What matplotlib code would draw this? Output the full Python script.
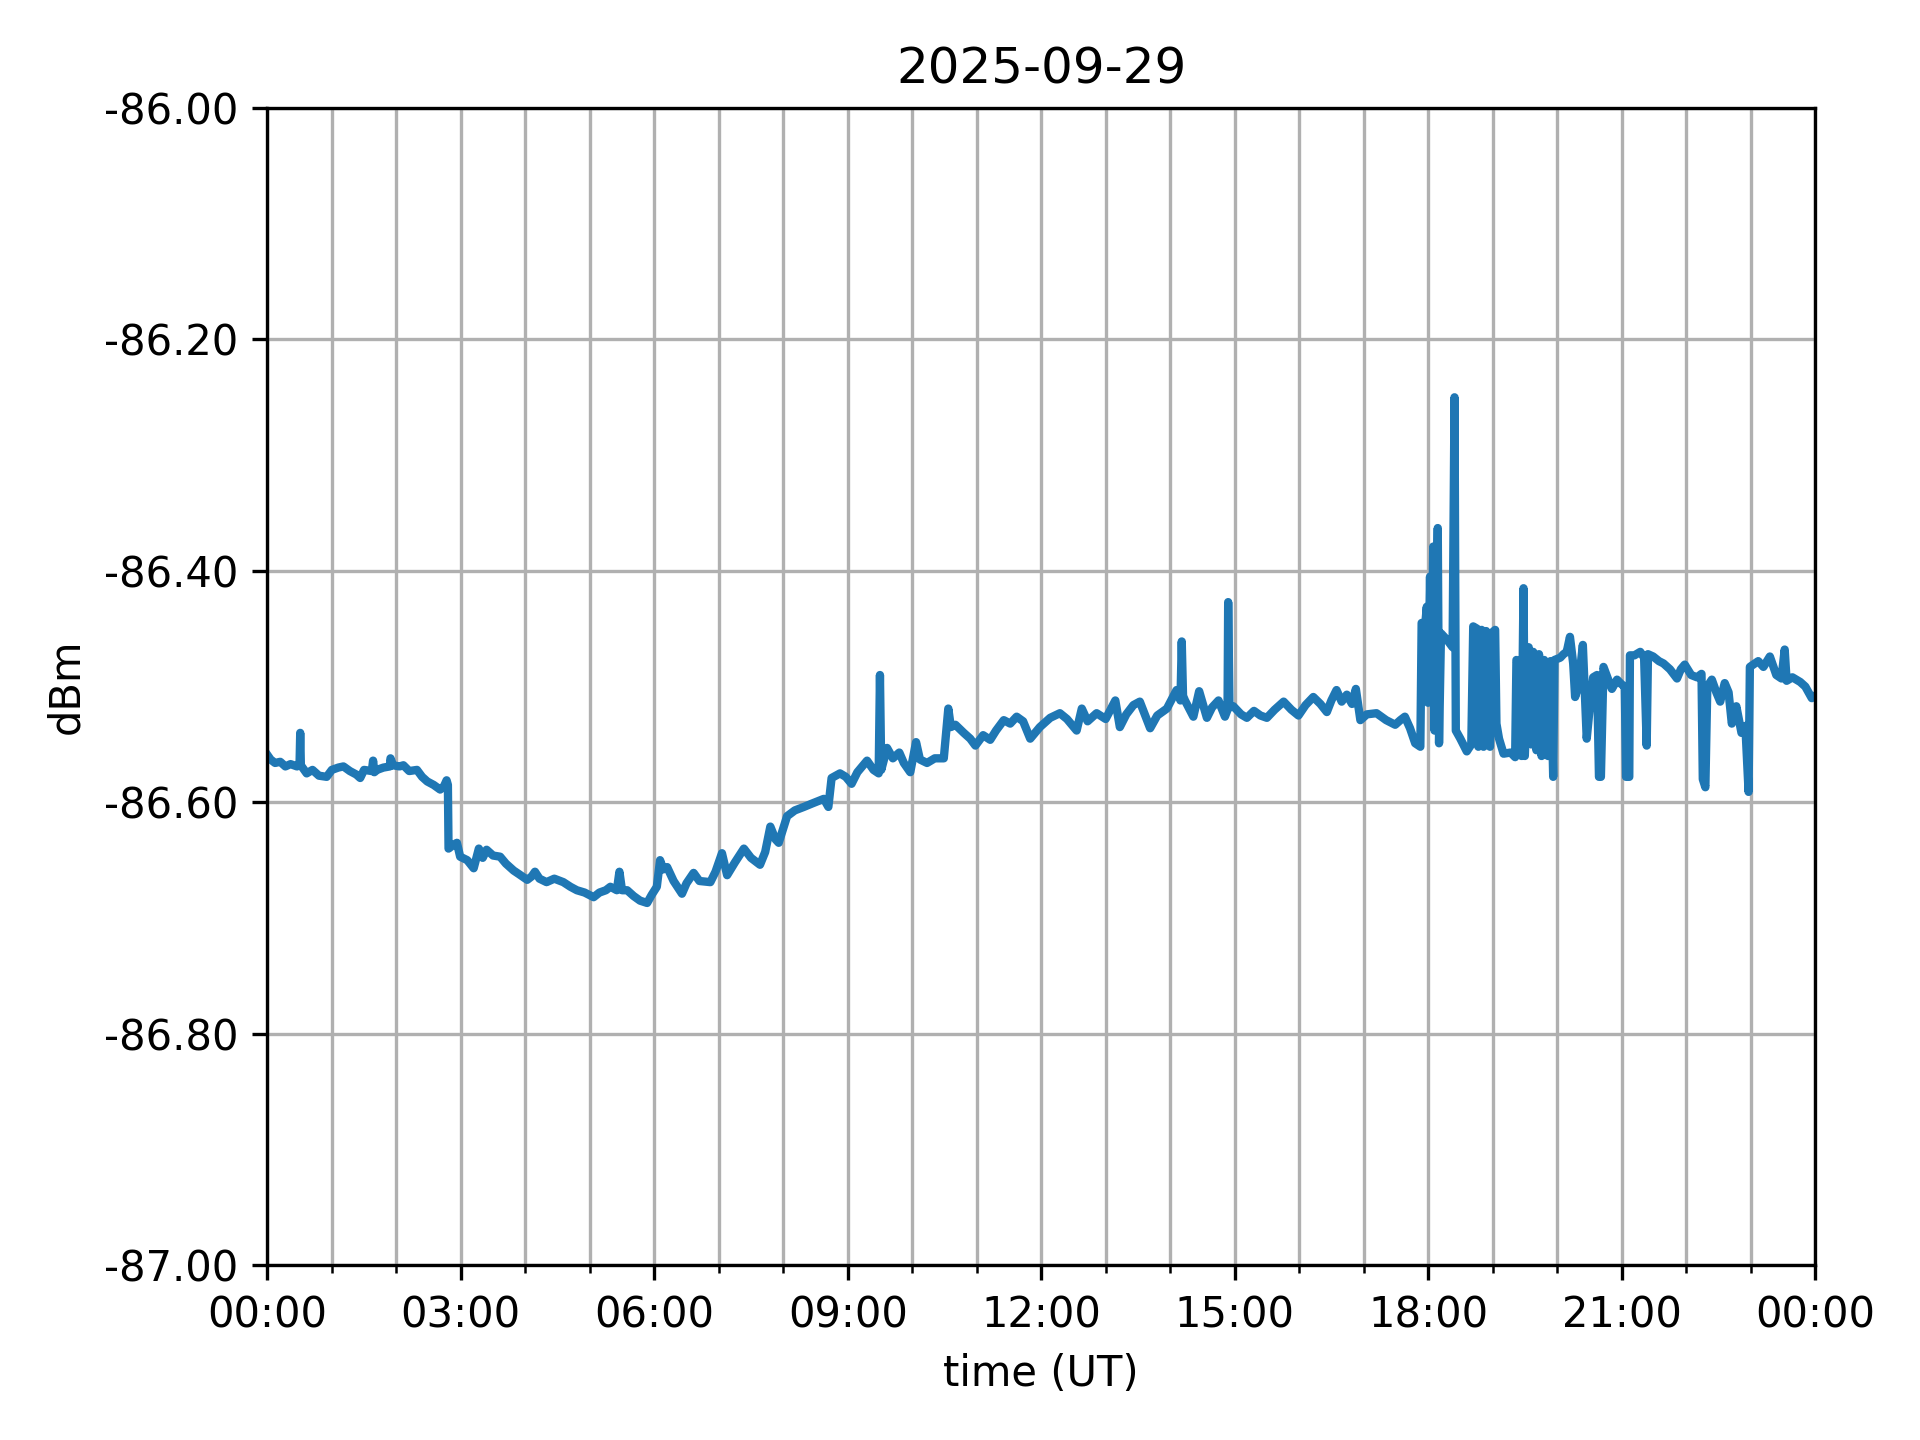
import numpy as np
from matplotlib import pyplot as plt
import matplotlib.dates as mdates
from datetime import datetime, timedelta

# hours since 00:00 UT and received level (dBm)
hours = [
    0.00, 0.05, 0.12, 0.20, 0.28, 0.36, 0.46, 0.50, 0.51, 0.52, 0.61, 0.70, 0.80, 0.92,
    1.00, 1.10, 1.18, 1.28, 1.38, 1.44, 1.50, 1.62, 1.64, 1.66, 1.70, 1.80, 1.90, 1.91,
    1.95, 2.05, 2.11, 2.20, 2.32, 2.40, 2.48, 2.58, 2.68, 2.74, 2.78, 2.80, 2.81, 2.88,
    2.94, 2.99, 3.10, 3.20, 3.28, 3.34, 3.40, 3.50, 3.61, 3.70, 3.82, 3.90, 4.03, 4.10,
    4.15, 4.22, 4.33, 4.45, 4.59, 4.70, 4.80, 4.92, 5.06, 5.15, 5.25, 5.32, 5.42, 5.46,
    5.50, 5.58, 5.68, 5.78, 5.89, 5.96, 6.04, 6.09, 6.14, 6.20, 6.30, 6.43, 6.50, 6.61,
    6.70, 6.87, 6.95, 7.05, 7.13, 7.25, 7.39, 7.50, 7.64, 7.72, 7.80, 7.88, 7.93, 8.06,
    8.18, 8.32, 8.45, 8.63, 8.70, 8.75, 8.88, 8.97, 9.06, 9.15, 9.30, 9.40, 9.48, 9.50,
    9.52, 9.61, 9.70, 9.80, 9.87, 9.97, 10.06, 10.12, 10.23, 10.35, 10.49, 10.56, 10.60,
    10.67, 10.80, 10.90, 10.98, 11.10, 11.21, 11.30, 11.42, 11.52, 11.62, 11.72, 11.83,
    11.98, 12.14, 12.29, 12.40, 12.55, 12.63, 12.72, 12.86, 13.00, 13.15, 13.22, 13.32,
    13.43, 13.53, 13.69, 13.80, 13.95, 14.10, 14.16, 14.18, 14.20, 14.23, 14.36, 14.45,
    14.57, 14.65, 14.75, 14.85, 14.89, 14.90, 14.92, 14.98, 15.10, 15.19, 15.30, 15.40,
    15.50, 15.62, 15.76, 15.88, 15.99, 16.10, 16.22, 16.33, 16.43, 16.50, 16.58, 16.66,
    16.74, 16.82, 16.88, 16.95, 17.05, 17.20, 17.35, 17.49, 17.57, 17.64, 17.72, 17.80,
    17.88, 17.90, 17.95, 17.98, 18.00, 18.03, 18.05, 18.08, 18.10, 18.15, 18.17, 18.20,
    18.30, 18.38, 18.41, 18.43, 18.50, 18.60, 18.67, 18.70, 18.76, 18.78, 18.83, 18.86,
    18.90, 18.93, 18.96, 19.00, 19.04, 19.06, 19.10, 19.17, 19.28, 19.35, 19.37, 19.42,
    19.45, 19.48, 19.50, 19.56, 19.60, 19.63, 19.68, 19.72, 19.76, 19.80, 19.86, 19.90,
    19.94, 19.96, 20.05, 20.10, 20.15, 20.20, 20.25, 20.28, 20.33, 20.40, 20.46, 20.50,
    20.56, 20.62, 20.65, 20.68, 20.72, 20.80, 20.85, 20.93, 21.00, 21.05, 21.07, 21.12,
    21.13, 21.20, 21.29, 21.35, 21.39, 21.41, 21.49, 21.58, 21.65, 21.75, 21.86, 21.92,
    21.98, 22.08, 22.17, 22.24, 22.26, 22.30, 22.33, 22.40, 22.47, 22.53, 22.60, 22.66,
    22.71, 22.78, 22.86, 22.92, 22.97, 22.99, 23.12, 23.20, 23.30, 23.40, 23.48, 23.53,
    23.56, 23.65, 23.77, 23.85, 23.95, 24.00,
]
dbm = [
    -86.559, -86.563, -86.566, -86.565, -86.569, -86.567, -86.569, -86.566, -86.540, -86.568,
    -86.575, -86.572, -86.577, -86.578, -86.572, -86.570, -86.569, -86.573, -86.576, -86.579,
    -86.572, -86.573, -86.564, -86.574, -86.572, -86.570, -86.569, -86.562, -86.568, -86.569,
    -86.568, -86.573, -86.572, -86.578, -86.582, -86.585, -86.589, -86.586, -86.581, -86.585,
    -86.640, -86.637, -86.635, -86.647, -86.650, -86.657, -86.640, -86.648, -86.641, -86.646,
    -86.647, -86.653, -86.659, -86.662, -86.667, -86.664, -86.660, -86.666, -86.669, -86.666,
    -86.669, -86.673, -86.676, -86.678, -86.682, -86.678, -86.676, -86.673, -86.676, -86.660,
    -86.676, -86.676, -86.681, -86.685, -86.687, -86.680, -86.673, -86.650, -86.658, -86.656,
    -86.668, -86.679, -86.670, -86.661, -86.668, -86.669, -86.660, -86.644, -86.663, -86.652,
    -86.640, -86.648, -86.654, -86.643, -86.621, -86.632, -86.635, -86.612, -86.607, -86.604,
    -86.601, -86.597, -86.604, -86.579, -86.575, -86.578, -86.584, -86.574, -86.564, -86.572,
    -86.575, -86.490, -86.572, -86.553, -86.562, -86.557, -86.566, -86.574, -86.548, -86.563,
    -86.566, -86.562, -86.562, -86.519, -86.535, -86.533, -86.540, -86.545, -86.551, -86.542,
    -86.546, -86.538, -86.529, -86.532, -86.526, -86.530, -86.545, -86.535, -86.527, -86.523,
    -86.528, -86.538, -86.519, -86.530, -86.523, -86.528, -86.512, -86.535, -86.524, -86.516,
    -86.513, -86.536, -86.525, -86.519, -86.503, -86.512, -86.461, -86.508, -86.512, -86.526,
    -86.504, -86.527, -86.518, -86.512, -86.526, -86.520, -86.427, -86.518, -86.517, -86.524,
    -86.527, -86.521, -86.525, -86.527, -86.520, -86.513, -86.520, -86.525, -86.516, -86.509,
    -86.515, -86.522, -86.512, -86.503, -86.513, -86.507, -86.515, -86.502, -86.529, -86.524,
    -86.523, -86.529, -86.533, -86.529, -86.526, -86.536, -86.549, -86.552, -86.445, -86.450,
    -86.431, -86.514, -86.405, -86.500, -86.379, -86.538, -86.363, -86.549, -86.454, -86.460,
    -86.466, -86.250, -86.538, -86.545, -86.556, -86.550, -86.448, -86.450, -86.552, -86.451,
    -86.552, -86.452, -86.540, -86.552, -86.453, -86.451, -86.532, -86.545, -86.558, -86.557,
    -86.561, -86.477, -86.482, -86.560, -86.415, -86.560, -86.466, -86.550, -86.470, -86.555,
    -86.472, -86.560, -86.477, -86.560, -86.478, -86.578, -86.477, -86.475, -86.472, -86.470,
    -86.457, -86.480, -86.509, -86.500, -86.464, -86.545, -86.522, -86.492, -86.490, -86.578,
    -86.578, -86.483, -86.495, -86.502, -86.494, -86.498, -86.500, -86.578, -86.578, -86.473,
    -86.473, -86.470, -86.475, -86.551, -86.472, -86.474, -86.478, -86.480, -86.485, -86.493,
    -86.485, -86.481, -86.490, -86.492, -86.489, -86.580, -86.587, -86.500, -86.494, -86.505,
    -86.513, -86.497, -86.505, -86.532, -86.517, -86.540, -86.534, -86.591, -86.483, -86.478,
    -86.483, -86.474, -86.490, -86.493, -86.468, -86.495, -86.492, -86.496, -86.500, -86.510,
    -86.508,
]

day = datetime(2025, 9, 29)
times = [day + timedelta(hours=h) for h in hours]

fig, ax = plt.subplots(figsize=(6.4, 4.8), dpi=300)
ax.plot(times, dbm, color='#1f77b4', linewidth=2)

ax.set_xlim(day, day + timedelta(days=1))
ax.set_ylim(-87.0, -86.0)
ax.xaxis.set_major_locator(mdates.HourLocator(byhour=range(0, 24, 3)))
ax.xaxis.set_minor_locator(mdates.HourLocator())
ax.xaxis.set_major_formatter(mdates.DateFormatter('%H:%M'))
ax.set_yticks(np.arange(-87.0, -85.99, 0.2))
ax.yaxis.set_major_formatter(plt.FormatStrFormatter('%.2f'))
ax.grid(which='both', axis='x')
ax.grid(which='major', axis='y')

ax.set_title('2025-09-29')
ax.set_xlabel('time (UT)')
ax.set_ylabel('dBm')

fig.tight_layout()
fig.savefig('out.png')
